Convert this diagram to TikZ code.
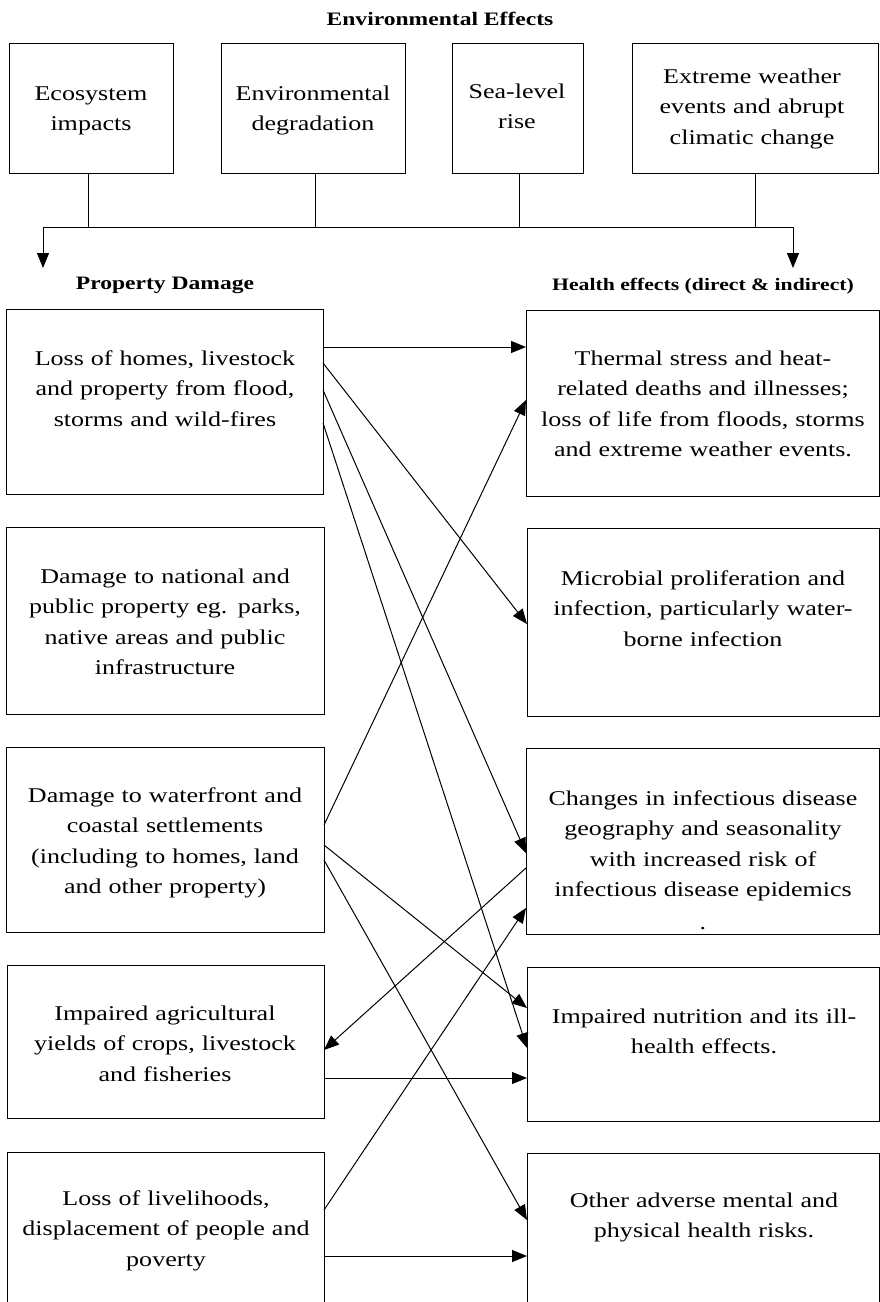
\documentclass[tikz,border=0pt]{standalone}
\usepackage{fontspec}
\setmainfont{Liberation Serif}[FakeStretch=1.24]
\usetikzlibrary{arrows.meta,calc}
\begin{document}
\begin{tikzpicture}[x=1pt,y=-1pt,
  box/.style={draw, line width=1pt, inner sep=0pt, outer sep=0pt, anchor=north west},
  txt/.style={anchor=base, align=center, text width=340pt, inner sep=0pt, font=\fontsize{21}{30.5}\selectfont},
  head/.style={anchor=base, inner sep=0pt},
  conn/.style={line width=1pt},
  arr/.style={line width=1pt, -{Triangle[length=15pt,width=12pt]}}]
\useasboundingbox (0,0) rectangle (880,1302);
\clip (0,0) rectangle (880,1302);

% titles
\node[head, font=\bfseries\fontsize{19}{23}\selectfont] (title) at (440,25) {Environmental Effects};
\node[head, font=\bfseries\fontsize{19}{23}\selectfont] (pd) at (165,289) {Property Damage};
\node[head, font=\bfseries\fontsize{17.5}{22}\selectfont] (he) at (703,290) {Health effects (direct \& indirect)};

% top boxes
\node[box, minimum width=164pt, minimum height=130pt] (eco) at (9,43) {};
\node[txt] (ecot) at (91,100) {Ecosystem\\impacts};
\node[box, minimum width=184pt, minimum height=130pt] (envdeg) at (221,43) {};
\node[txt] (envdegt) at (313,100) {Environmental\\degradation};
\node[box, minimum width=131pt, minimum height=130pt] (sea) at (452,43) {};
\node[txt] (seat) at (517,98) {Sea-level\\rise};
\node[box, minimum width=246pt, minimum height=130pt] (ext) at (632,43) {};
\node[txt] (extt) at (752,83) {Extreme weather\\events and abrupt\\climatic change};

% bus
\coordinate (busL) at (43,227);
\coordinate (busR) at (793,227);
\coordinate (pdtip) at (43,268);
\coordinate (hetip) at (793,268);
\draw[conn] ([xshift=-3pt]eco.south) -- ([xshift=-3pt]eco.south |- busL);
\draw[conn] ([xshift=2pt]envdeg.south) -- ([xshift=2pt]envdeg.south |- busL);
\draw[conn] ([xshift=1.5pt]sea.south) -- ([xshift=1.5pt]sea.south |- busL);
\draw[conn] (ext.south) -- (ext.south |- busL);
\draw[conn] (busL) -- (busR);
\draw[arr] (busL) -- (pdtip);
\draw[arr] (busR) -- (hetip);

% left boxes
\node[box, minimum width=317pt, minimum height=185pt] (l1) at (6,309) {};
\node[txt] (l1t) at (165,365) {Loss of homes, livestock\\and property from flood,\\storms and wild-fires};
\node[box, minimum width=318pt, minimum height=187pt] (l2) at (6,527) {};
\node[txt] (l2t) at (165,583) {Damage to national and\\public property eg. parks,\\native areas and public\\infrastructure};
\node[box, minimum width=318pt, minimum height=185pt] (l3) at (6,747) {};
\node[txt] (l3t) at (165,802) {Damage to waterfront and\\coastal settlements\\(including to homes, land\\and other property)};
\node[box, minimum width=317pt, minimum height=153pt] (l4) at (7,965) {};
\node[txt] (l4t) at (165,1020) {Impaired agricultural\\yields of crops, livestock\\and fisheries};
\node[box, minimum width=317pt, minimum height=170pt] (l5) at (7,1152) {};
\node[txt] (l5t) at (166,1205) {Loss of livelihoods,\\displacement of people and\\poverty};

% right boxes
\node[box, minimum width=353pt, minimum height=186pt] (r1) at (526,310) {};
\node[txt] (r1t) at (703,365) {Thermal stress and heat-\\related deaths and illnesses;\\loss of life from floods, storms\\and extreme weather events.};
\node[box, minimum width=352pt, minimum height=188pt] (r2) at (527,528) {};
\node[txt] (r2t) at (703,585) {Microbial proliferation and\\infection, particularly water-\\borne infection};
\node[box, minimum width=353pt, minimum height=186pt] (r3) at (526,748) {};
\node[txt] (r3t) at (703,805) {Changes in infectious disease\\geography and seasonality\\with increased risk of\\infectious disease epidemics};
\node[txt] (r3dot) at (703,929) {.};
\node[box, minimum width=352pt, minimum height=154pt] (r4) at (527,967) {};
\node[txt] (r4t) at (704,1023) {Impaired nutrition and its ill-\\health effects.};
\node[box, minimum width=352pt, minimum height=170pt] (r5) at (527,1153) {};
\node[txt] (r5t) at (704,1207) {Other adverse mental and\\physical health risks.};

% connectors
\draw[arr] ($(l1.north east)+(0,38)$) -- ($(r1.north west)+(0,37)$);
\draw[arr] ($(l1.north east)+(0,54)$) -- ($(r2.north west)+(0,96)$);
\draw[arr] ($(l1.north east)+(0,81)$) -- ($(r3.north west)+(0,105)$);
\draw[arr] ($(l1.north east)+(0,114)$) -- ($(r4.north west)+(0,81)$);
\draw[arr] ($(l3.north east)+(0,78)$) -- ($(r1.north west)+(0,90)$);
\draw[arr] ($(l3.north east)+(0,98)$) -- ($(r4.north west)+(0,41)$);
\draw[arr] ($(l3.north east)+(0,113)$) -- ($(r5.north west)+(0,67)$);
\draw[arr] ($(r3.north west)+(0,120)$) -- ($(l4.north east)+(0,85)$);
\draw[arr] ($(l4.north east)+(0,113)$) -- ($(r4.north west)+(0,111)$);
\draw[arr] ($(l5.north east)+(0,58)$) -- ($(r3.north west)+(0,160)$);
\draw[arr] ($(l5.north east)+(0,104)$) -- ($(r5.north west)+(0,103)$);
\end{tikzpicture}
\end{document}
